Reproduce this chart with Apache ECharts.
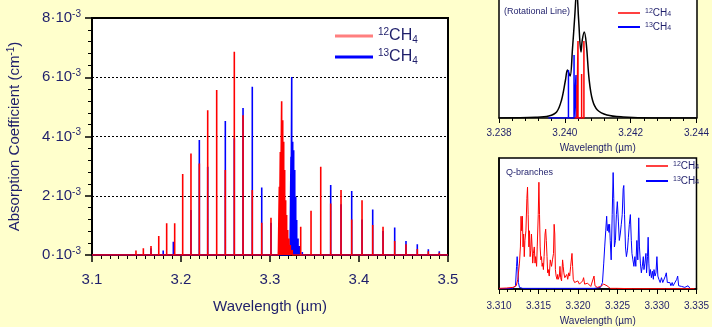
<!DOCTYPE html>
<html>
<head>
<meta charset="utf-8">
<script src="https://cdn.jsdelivr.net/npm/echarts@6/dist/echarts.min.js"></script>
<style>
html, body { margin: 0; padding: 0; background: #ffffcc; }
#chart { width: 712px; height: 327px; }
</style>
</head>
<body>
<div id="chart"></div>
<script>
// main spectrum: line positions (um) and peak heights (1e-3 cm-1)
var redPos = [3.1315, 3.1408, 3.1494, 3.1577, 3.1663, 3.1750, 3.1839, 3.1929, 3.2019, 3.2112, 3.2206, 3.2300, 3.2401, 3.2498, 3.2599, 3.2697, 3.2801, 3.2907, 3.3011, 3.3345, 3.3461, 3.3570, 3.3682, 3.3798, 3.3918, 3.4034, 3.4154, 3.4270, 3.4401, 3.4528, 3.4655, 3.4779, 3.4902];
var redVal = [0.04, 0.06, 0.15, 0.23, 0.30, 0.64, 1.07, 1.07, 2.73, 3.43, 3.09, 4.89, 5.57, 2.87, 6.86, 4.72, 2.19, 1.09, 1.26, 0.95, 1.49, 2.98, 1.74, 2.19, 1.20, 1.85, 1.01, 0.95, 0.47, 0.36, 0.20, 0.13, 0.08];
var redQPos = [3.3094, 3.3105, 3.3116, 3.3131, 3.3143, 3.3154, 3.3165, 3.3176, 3.3187, 3.3199, 3.3213, 3.3228, 3.3250, 3.3280];
var redQVal = [0.10, 2.30, 3.48, 5.19, 4.55, 3.82, 2.87, 1.85, 1.35, 0.84, 0.56, 0.34, 0.17, 0.05];
var bluePos = [3.1663, 3.1800, 3.1914, 3.2112, 3.2206, 3.2300, 3.2498, 3.2599, 3.2697, 3.2801, 3.2907, 3.3011, 3.3682, 3.3798, 3.3918, 3.4034, 3.4154, 3.4270, 3.4401, 3.4528, 3.4655, 3.4779, 3.4902];
var blueVal = [0.23, 0.15, 0.45, 1.52, 3.88, 2.98, 4.52, 3.94, 4.96, 5.68, 2.28, 1.09, 2.36, 1.71, 2.16, 1.20, 1.54, 0.81, 0.93, 0.47, 0.36, 0.19, 0.13];
var blueQPos = [3.3225, 3.3236, 3.3244, 3.3255, 3.3266, 3.3278, 3.3289, 3.3300, 3.3315, 3.3333, 3.3363];
var blueQVal = [0.10, 3.32, 6.01, 3.82, 3.54, 2.87, 1.97, 1.18, 0.56, 0.30, 0.10];

// inset 1: single rotational line (arbitrary units)
var rotX = [3.2380, 3.23911, 3.23951, 3.23975, 3.2399, 3.24002, 3.24008, 3.24016, 3.24023, 3.2403, 3.24036, 3.24042, 3.24049, 3.24053, 3.24059, 3.24065, 3.24074, 3.24084, 3.24099, 3.24128, 3.24177, 3.24266, 3.2440];
var rotTotal = [0, 0.7, 2, 6, 18, 38, 48, 42, 68, 101, 128, 98, 66, 78, 86, 75, 38, 18, 8, 3, 1, 0, 0];
var rotBluePos = [3.24011, 3.24028, 3.24034];
var rotBlueVal = [48, 63, 43];
var rotRedPos = [3.24037, 3.2404, 3.24051, 3.24058];
var rotRedVal = [33, 77, 44, 77];

// inset 2: Q-branches (arbitrary units)
var q12X = [3.31, 3.31094, 3.31177, 3.31218, 3.31238, 3.31259, 3.31271, 3.31279, 3.31287, 3.31296,
  3.31304, 3.31312, 3.3132, 3.31328, 3.31341, 3.31353, 3.31361, 3.31369, 3.31378, 3.31386,
  3.31394, 3.31402, 3.31411, 3.31419, 3.31427, 3.31435, 3.31447, 3.31456, 3.31464, 3.31476,
  3.31484, 3.31497, 3.31505, 3.31513, 3.31521, 3.3153, 3.31538, 3.31546, 3.31554, 3.31562,
  3.31571, 3.31583, 3.31591, 3.31599, 3.31608, 3.31616, 3.31624, 3.31636, 3.31649, 3.31657,
  3.31665, 3.31677, 3.3169, 3.31698, 3.31706, 3.31714, 3.31723, 3.31735, 3.31743, 3.31751,
  3.31764, 3.31772, 3.3178, 3.31792, 3.31805, 3.31813, 3.31821, 3.31833, 3.31846, 3.31858,
  3.3187, 3.31883, 3.31895, 3.31907, 3.31924, 3.31932, 3.3194, 3.31957, 3.31977, 3.31998,
  3.32018, 3.32039, 3.32059, 3.32071, 3.32084, 3.321, 3.32121, 3.32141, 3.32162, 3.32182,
  3.32203, 3.32215, 3.32244, 3.32285, 3.32326, 3.32367, 3.32408, 3.3249, 3.32695, 3.33106, 3.33475];
var q12Y = [2, 3, 5, 10, 30, 80, 130, 225, 180, 225,
  130, 170, 100, 150, 180, 280, 315, 230, 130, 180,
  100, 120, 170, 130, 80, 110, 130, 80, 100, 70,
  130, 230, 330, 230, 130, 90, 100, 70, 80, 60,
  100, 170, 185, 150, 100, 50, 60, 40, 90, 95,
  70, 90, 110, 200, 170, 60, 40, 30, 45, 30,
  40, 70, 35, 25, 90, 70, 50, 35, 30, 45,
  30, 50, 40, 70, 110, 70, 30, 20, 15, 25,
  15, 10, 25, 35, 15, 10, 18, 12, 8, 10,
  40, 10, 5, 8, 15, 10, 2, 2, 1, 1, 1];
var q13X = [3.31, 3.31177, 3.31209, 3.31222, 3.3123, 3.31238, 3.31246, 3.31259, 3.313, 3.31874,
  3.32203, 3.32285, 3.3231, 3.32326, 3.32338, 3.32351, 3.32363, 3.32371, 3.32383, 3.32392,
  3.324, 3.32408, 3.3242, 3.32433, 3.32445, 3.32453, 3.32461, 3.32474, 3.32486, 3.32498,
  3.32511, 3.32523, 3.32535, 3.32548, 3.3256, 3.32572, 3.3258, 3.32589, 3.32601, 3.32613,
  3.32626, 3.32638, 3.3265, 3.32663, 3.32675, 3.32683, 3.32695, 3.32708, 3.3272, 3.32732,
  3.32745, 3.32757, 3.32769, 3.32778, 3.3279, 3.32802, 3.32814, 3.32827, 3.32835, 3.32847,
  3.3286, 3.32868, 3.3288, 3.32888, 3.32897, 3.32905, 3.32917, 3.32929, 3.32942, 3.32954,
  3.32962, 3.32975, 3.32987, 3.32999, 3.33011, 3.33024, 3.3304, 3.33057, 3.33073, 3.33089,
  3.33106, 3.33118, 3.33131, 3.33147, 3.33163, 3.33176, 3.33192, 3.33204, 3.33229, 3.3325,
  3.33262, 3.33274, 3.33311, 3.33352, 3.33373, 3.33393, 3.33406, 3.33418];
var q13Y = [1, 2, 10, 70, 100, 70, 20, 5, 2, 2,
  2, 5, 20, 80, 130, 180, 225, 180, 200, 175,
  200, 150, 90, 230, 360, 280, 130, 150, 230, 270,
  210, 150, 170, 200, 230, 310, 320, 230, 130, 100,
  120, 160, 200, 230, 150, 110, 90, 70, 100, 70,
  150, 90, 220, 130, 80, 50, 70, 100, 60, 80,
  110, 50, 100, 160, 80, 40, 60, 35, 55, 30,
  60, 40, 50, 100, 40, 30, 20, 35, 20, 25,
  40, 50, 20, 15, 20, 10, 20, 10, 10, 30,
  40, 10, 8, 5, 5, 10, 10, 2];

var navy = '#1f1f6b';
var font = 'Liberation Sans';

function sticks(pos, val, from, to) {
  var pts = pos.map(function (p, i) { return [p, val[i]]; });
  pts.sort(function (a, b) { return a[0] - b[0]; });
  var out = [[from, 0]];
  pts.forEach(function (p) { out.push([p[0], 0], [p[0], p[1]], [p[0], 0]); });
  out.push([to, 0]);
  return out;
}
function pairs(xs, ys) { return xs.map(function (x, i) { return [x, ys[i]]; }); }

function legendFmt(name) {
  return '{s|' + name.slice(0, 2) + '}{m|CH}{b|4}';
}
function smallLegend(left, top, gap) {
  return {
    left: left, top: top, orient: 'vertical', itemWidth: 22, itemHeight: 2, itemGap: gap,
    padding: 0,
    formatter: legendFmt,
    textStyle: { color: navy, rich: {
      s: { fontSize: 7, color: navy, verticalAlign: 'top', lineHeight: 7 },
      m: { fontSize: 10, color: navy, lineHeight: 10 },
      b: { fontSize: 7, color: navy, verticalAlign: 'bottom', lineHeight: 6 }
    } },
    data: [
      { name: '12CH4', icon: 'rect', itemStyle: { color: '#ff4040' } },
      { name: '13CH4', icon: 'rect', itemStyle: { color: '#0000ff' } }
    ]
  };
}

var myChart = echarts.init(document.getElementById('chart'));
var option = {
  backgroundColor: '#ffffcc',
  animation: false,
  textStyle: { fontFamily: font },
  title: [
    { text: '(Rotational Line)', left: 499, top: 2, textStyle: { fontSize: 9, color: navy, fontWeight: 'normal', fontFamily: font } },
    { text: 'Q-branches', left: 501, top: 163, textStyle: { fontSize: 9, color: navy, fontWeight: 'normal', fontFamily: font } }
  ],
  legend: [
    {
      left: 330, top: 22, orient: 'vertical', itemWidth: 38, itemHeight: 3, itemGap: 3,
      formatter: legendFmt,
      textStyle: { color: navy, rich: {
        s: { fontSize: 10, color: navy, verticalAlign: 'top', lineHeight: 12 },
        m: { fontSize: 16, color: navy, lineHeight: 18 },
        b: { fontSize: 10, color: navy, verticalAlign: 'bottom', lineHeight: 8 }
      } },
      data: [
        { name: '12CH4', icon: 'rect', itemStyle: { color: '#ff7f7f' } },
        { name: '13CH4', icon: 'rect', itemStyle: { color: '#0000ff' } }
      ]
    },
    smallLegend(618, 8, 4),
    smallLegend(646, 161, 5)
  ],
  grid: [
    { left: 92, right: 264, top: 18, bottom: 72, show: true, backgroundColor: '#fff', borderColor: '#000', borderWidth: 2 },
    { left: 499, right: 10, top: 0, bottom: 209, show: true, backgroundColor: '#fff', borderColor: 'rgba(0,0,0,0)', borderWidth: 0 },
    { left: 499, right: 10, top: 158, bottom: 34, show: true, backgroundColor: '#fff', borderColor: '#000', borderWidth: 1.5 }
  ],
  xAxis: [
    {
      gridIndex: 0, type: 'value', min: 3.1, max: 3.5, interval: 0.1,
      name: 'Wavelength (µm)', nameLocation: 'middle', nameGap: 44,
      nameTextStyle: { fontSize: 15, color: navy, fontFamily: font },
      axisLine: { lineStyle: { color: '#000', width: 2 } },
      axisTick: { length: 7, lineStyle: { color: '#000', width: 1.5 } },
      minorTick: { show: true, splitNumber: 10, length: 4, lineStyle: { color: '#000', width: 1 } },
      axisLabel: { fontSize: 15, color: navy, margin: 17, formatter: function (v) { return v.toFixed(1); } },
      splitLine: { show: false }
    },
    {
      gridIndex: 1, type: 'value', min: 3.238, max: 3.244, interval: 0.002,
      name: 'Wavelength (µm)', nameLocation: 'middle', nameGap: 25,
      nameTextStyle: { fontSize: 10, color: navy, fontFamily: font },
      axisLine: { lineStyle: { color: '#000', width: 1.5 } },
      axisTick: { length: 5, lineStyle: { color: '#000' } },
      minorTick: { show: true, splitNumber: 5, length: 3, lineStyle: { color: '#000' } },
      axisLabel: { fontSize: 10, color: navy, margin: 10, showMaxLabel: true, hideOverlap: false, formatter: function (v) { return v.toFixed(3); } },
      splitLine: { show: false }
    },
    {
      gridIndex: 2, type: 'value', min: 3.310, max: 3.335, interval: 0.005,
      name: 'Wavelength (µm)', nameLocation: 'middle', nameGap: 27,
      nameTextStyle: { fontSize: 10, color: navy, fontFamily: font },
      axisLine: { lineStyle: { color: '#000', width: 1.5 } },
      axisTick: { length: 5, lineStyle: { color: '#000' } },
      minorTick: { show: true, splitNumber: 5, length: 3, lineStyle: { color: '#000' } },
      axisLabel: { fontSize: 10, color: navy, margin: 12, showMaxLabel: true, hideOverlap: false, formatter: function (v) { return v.toFixed(3); } },
      splitLine: { show: false }
    }
  ],
  yAxis: [
    {
      gridIndex: 0, type: 'value', min: 0, max: 8, interval: 2,
      name: '{a|Absorption Coefficient (cm}{s|-1}{a|)}', nameLocation: 'middle', nameGap: 68,
      nameTextStyle: { color: navy, rich: {
        a: { fontSize: 15, color: navy, fontFamily: font, lineHeight: 18 },
        s: { fontSize: 10, color: navy, fontFamily: font, verticalAlign: 'top', lineHeight: 14 }
      } },
      axisLine: { lineStyle: { color: '#000', width: 2 } },
      axisTick: { length: 7, lineStyle: { color: '#000', width: 1.5 } },
      minorTick: { show: true, splitNumber: 5, length: 4, lineStyle: { color: '#000', width: 1 } },
      axisLabel: {
        margin: 11,
        formatter: function (v) { return '{a|' + v + '·10}{s|-3}'; },
        rich: {
          a: { fontSize: 15, color: navy, fontFamily: font, lineHeight: 18 },
          s: { fontSize: 10, color: navy, fontFamily: font, verticalAlign: 'top', lineHeight: 14 }
        }
      },
      splitLine: { show: true, lineStyle: { color: '#000', type: [2, 2], width: 1 } }
    },
    {
      gridIndex: 1, type: 'value', min: 0, max: 118, position: 'left',
      axisLine: { show: true, lineStyle: { color: '#000', width: 1.5 } },
      axisTick: { show: false }, axisLabel: { show: false }, splitLine: { show: false }
    },
    {
      gridIndex: 2, type: 'value', min: 0, max: 405,
      axisLine: { show: true, lineStyle: { color: '#000', width: 1.5 } },
      axisTick: { show: false }, axisLabel: { show: false }, splitLine: { show: false }
    },
    {
      gridIndex: 1, type: 'value', min: 0, max: 118, position: 'right',
      axisLine: { show: true, lineStyle: { color: '#000', width: 1.5 } },
      axisTick: { show: false }, axisLabel: { show: false }, splitLine: { show: false }
    }
  ],
  series: [
    {
      name: '13CH4', type: 'line', xAxisIndex: 0, yAxisIndex: 0, symbol: 'none',
      lineStyle: { color: '#0000ff', width: 1.6 }, itemStyle: { color: '#0000ff' },
      data: sticks(bluePos.concat(blueQPos), blueVal.concat(blueQVal), 3.1, 3.5)
    },
    {
      name: '12CH4', type: 'line', xAxisIndex: 0, yAxisIndex: 0, symbol: 'none',
      lineStyle: { color: '#ff0000', width: 1.6 }, itemStyle: { color: '#ff0000' },
      data: sticks(redPos.concat(redQPos), redVal.concat(redQVal), 3.1, 3.5)
    },
    {
      name: 'Total', type: 'line', xAxisIndex: 1, yAxisIndex: 1, symbol: 'none', smooth: 0.35,
      lineStyle: { color: '#000', width: 1.5 }, data: pairs(rotX, rotTotal)
    },
    {
      name: '13CH4', type: 'line', xAxisIndex: 1, yAxisIndex: 1, symbol: 'none',
      lineStyle: { color: '#0000ff', width: 1.5 }, itemStyle: { color: '#0000ff' },
      data: sticks(rotBluePos, rotBlueVal, 3.2395, 3.2405)
    },
    {
      name: '12CH4', type: 'line', xAxisIndex: 1, yAxisIndex: 1, symbol: 'none',
      lineStyle: { color: '#ff0000', width: 1.5 }, itemStyle: { color: '#ff0000' },
      data: sticks(rotRedPos, rotRedVal, 3.2403, 3.2406)
    },
    {
      name: '13CH4', type: 'line', xAxisIndex: 2, yAxisIndex: 2, symbol: 'none',
      lineStyle: { color: '#0000ff', width: 1 }, itemStyle: { color: '#0000ff' },
      data: pairs(q13X, q13Y)
    },
    {
      name: '12CH4', type: 'line', xAxisIndex: 2, yAxisIndex: 2, symbol: 'none',
      lineStyle: { color: '#ff0000', width: 1 }, itemStyle: { color: '#ff0000' },
      data: pairs(q12X, q12Y)
    }
  ]
};
myChart.setOption(option);
</script>
</body>
</html>
